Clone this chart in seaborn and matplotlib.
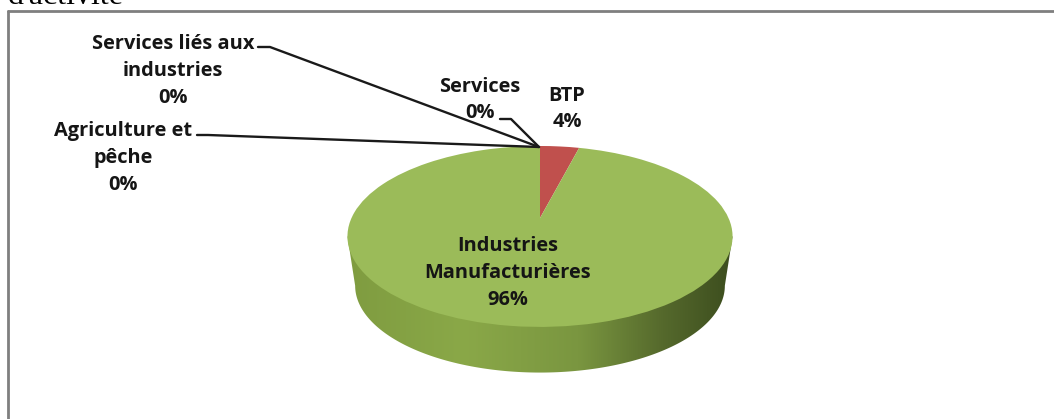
import numpy as np
import matplotlib
matplotlib.use("Agg")
import matplotlib.pyplot as plt
from matplotlib.colors import LinearSegmentedColormap
from matplotlib.patches import PathPatch
from matplotlib.path import Path
from matplotlib.transforms import Transform
import seaborn as sns

# Donnees du graphique (sens horaire depuis le haut)
categories = ["BTP", "Industries\nManufacturières", "Agriculture et\npêche",
              "Services liés aux\nindustries", "Services"]
valeurs = [4, 96, 0, 0, 0]
couleurs = ["#c0504d", "#9bbb59", "#4f81bd", "#8064a2", "#4bacc6"]
titre = "d'activité"

sns.set_theme(style="white")
plt.rcParams["font.family"] = ["Open Sans", "DejaVu Sans"]

W, H = 1054, 419
CX, CY = 540, 218   # pointe du camembert, en pixels
RX, RY, K = 188.5, 86.7, 0.204   # perspective
PROF, ECH = 50, 0.96   # epaisseur du disque


class Perspective(Transform):
    """Passe du disque unite du camembert a l'ellipse vue en perspective"""
    input_dims = output_dims = 2

    def __init__(self, echelle=1.0, dy=0.0):
        super().__init__()
        self.echelle = echelle
        self.dy = dy

    def transform_non_affine(self, values):
        values = np.asarray(values, dtype=float)
        u, v = values[:, 0], values[:, 1]
        d = 1 + K * v
        x = CX + self.echelle * RX * u / d
        y = CY + self.dy - self.echelle * RY * v / d
        return np.column_stack([x, y])


fig = plt.figure(figsize=(W / 100, H / 100), dpi=100, facecolor="white")
ax = fig.add_axes([0, 0, 1, 1])

wedges, _ = ax.pie(valeurs, colors=couleurs, startangle=90, counterclock=False,
                   wedgeprops={"linewidth": 0})
ax.set_aspect("auto")
ax.set_xlim(0, W)
ax.set_ylim(H, 0)
ax.axis("off")

haut = Perspective()
for w in wedges:
    w.set_transform(haut + ax.transData)
    w.set_zorder(3)

# Flanc du disque: degrade clippe sur l'ellipse du bas
t0 = np.arcsin(-K)
t = np.linspace(np.pi - t0, 2 * np.pi + t0, 200)
bas = Perspective(ECH, PROF).transform_non_affine(np.column_stack([np.cos(t), np.sin(t)]))
g_bord = haut.transform_non_affine(np.array([[-np.cos(t0), np.sin(t0)]]))
d_bord = haut.transform_non_affine(np.array([[np.cos(t0), np.sin(t0)]]))
contour = np.vstack([g_bord, bas, d_bord, g_bord])
codes = [Path.MOVETO] + [Path.LINETO] * (len(contour) - 2) + [Path.CLOSEPOLY]
clip = PathPatch(Path(contour, codes), transform=ax.transData, facecolor="none", edgecolor="none")
ax.add_patch(clip)
cmap = LinearSegmentedColormap.from_list(
    "flanc", [(0, "#7f9c40"), (0.3, "#8aa848"), (0.6, "#7a9640"), (0.82, "#55692c"), (1, "#3c4d1e")])
img = ax.imshow(np.linspace(0, 1, 256).reshape(1, -1), cmap=cmap, aspect="auto",
                extent=(g_bord[0, 0], d_bord[0, 0], 380, 230), zorder=2)
img.set_clip_path(clip)
ax.set_xlim(0, W)
ax.set_ylim(H, 0)

# Traits de rappel
for xs, ys in [([258, 270, 539], [47, 47, 147]),
               ([197, 208, 539], [135, 135, 147]),
               ([500, 511, 539], [119, 119, 147])]:
    ax.plot(xs, ys, color="#1a1a1a", lw=1.7, zorder=4, solid_joinstyle="round")

# Etiquettes
pos_etiquettes = [(567, 109), (508, 273), (123, 158), (173, 71), (480, 100)]
for cat, val, (x, y) in zip(categories, valeurs, pos_etiquettes):
    ax.text(x, y, f"{cat}\n{val}%", ha="center", va="center", fontsize=14.4,
            fontweight="bold", color="#151515", linespacing=1.44, zorder=5)

# Cadre et fin du titre coupe
ax.plot([8, 8], [H, 11], color="#7f7f7f", lw=2, zorder=1)
ax.plot([8, W], [11, 11], color="#7f7f7f", lw=2, zorder=1)
ax.text(8, 4, titre, fontsize=23, family="Liberation Serif", color="black", va="baseline")

fig.savefig("out.png", dpi=100)
